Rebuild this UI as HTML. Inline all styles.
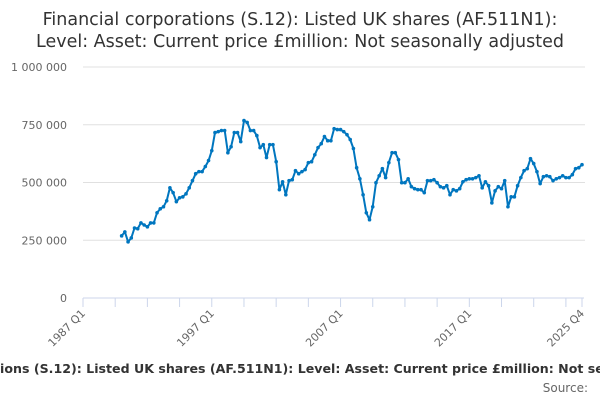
<!DOCTYPE html>
<html><head><meta charset="utf-8"><style>
body{margin:0;width:600px;height:400px;overflow:hidden;background:#fff;font-family:"Liberation Sans","DejaVu Sans",sans-serif}
svg text{font-family:"DejaVu Sans","Liberation Sans",sans-serif}
</style></head><body>
<svg id="c" width="600" height="400" xmlns="http://www.w3.org/2000/svg">
<text x="300" y="25" text-anchor="middle" font-size="17.5" fill="#333">Financial corporations (S.12): Listed UK shares (AF.511N1):</text>
<text x="300" y="47" text-anchor="middle" font-size="17.5" fill="#333">Level: Asset: Current price £million: Not seasonally adjusted</text>
<g id="grid"></g><g id="xaxis"></g><g id="series"></g>
<text x="300" y="373" text-anchor="middle" font-size="12.6" font-weight="bold" fill="#333">Financial corporations (S.12): Listed UK shares (AF.511N1): Level: Asset: Current price £million: Not seasonally adjusted</text>
<text x="588" y="392" text-anchor="end" font-size="12" fill="#666">Source:</text>
</svg>
<script>
const yTicks=[0,250000,500000,750000,1000000];
const yTickLabels=["0","250 000","500 000","750 000","1 000 000"];
const xLabelIdx=[0,40,80,120,155];
const xLabels=["1987 Q1","1997 Q1","2007 Q1","2017 Q1","2025 Q4"];
const startIdx=12;
const values=[269,286,243,260,303,300,325,316,308,325,325,369,386,395,421,477,456,417,434,438,451,477,508,538,547,547,569,595,638,716,720,725,725,629,655,716,716,677,768,760,725,725,703,651,664,608,664,664,590,469,503,447,508,512,551,538,547,556,586,590,620,651,668,699,681,681,733,729,729,720,707,686,647,564,516,447,369,339,395,499,529,560,521,586,629,629,599,499,499,516,482,473,469,469,456,508,508,512,499,482,477,486,447,469,464,473,503,512,516,516,521,529,477,503,486,412,464,482,473,508,395,438,438,486,521,551,560,603,582,547,495,525,529,525,508,516,521,529,521,521,534,560,564,577].map(v=>v*1000);
const NS="http://www.w3.org/2000/svg";
const x0=83,x1=582,y0=298,y1=67,nQ=155;
const xs=i=>x0+i*(x1-x0)/nQ;
const ys=v=>y0-v/1000000*(y0-y1);
const svg=document.getElementById('c');
function mk(t,a,p){const e=document.createElementNS(NS,t);for(const k in a)e.setAttribute(k,a[k]);p.appendChild(e);return e;}
const g=document.getElementById('grid');
yTicks.forEach((v,i)=>{
 if(v>0){const l=mk('line',{x1:x0,x2:x1+3,y1:ys(v),y2:ys(v),stroke:'#e0e0e0','stroke-width':1},g);
 
 }
 const t=mk('text',{x:67,y:ys(v)+4,'text-anchor':'end','font-size':11,fill:'#666'},g);t.textContent=yTickLabels[i];
 
 
});
const xa=document.getElementById('xaxis');
const ax=mk('line',{x1:x0,x2:x1+2,y1:y0,y2:y0,stroke:'#ccd6eb','stroke-width':1},xa);


for(let i=0;i<=nQ;i+=10){const t=mk('line',{x1:xs(i),x2:xs(i),y1:y0,y2:y0+9,stroke:'#ccd6eb'},xa);
 
 }
const lt=mk('line',{x1:xs(nQ),x2:xs(nQ),y1:y0,y2:y0+9,stroke:'#ccd6eb'},xa);


xLabelIdx.forEach((q,i)=>{const x=xs(q)+3,y=y0+16;
 const t=mk('text',{x:x,y:y,'text-anchor':'end','font-size':11,fill:'#666',transform:`rotate(-45 ${x} ${y})`},xa);t.textContent=xLabels[i];
 
 });
const s=document.getElementById('series');
const pts=values.map((v,i)=>xs(startIdx+i).toFixed(1)+','+ys(v).toFixed(1)).join(' ');
const pl=mk('polyline',{points:pts,fill:'none',stroke:'#0076bf','stroke-width':2,'stroke-linejoin':'round'},s);


values.forEach((v,i)=>{const c=mk('circle',{cx:xs(startIdx+i),cy:ys(v),r:1.8,fill:'#0076bf'},s);
 
 });
</script>
</body></html>
